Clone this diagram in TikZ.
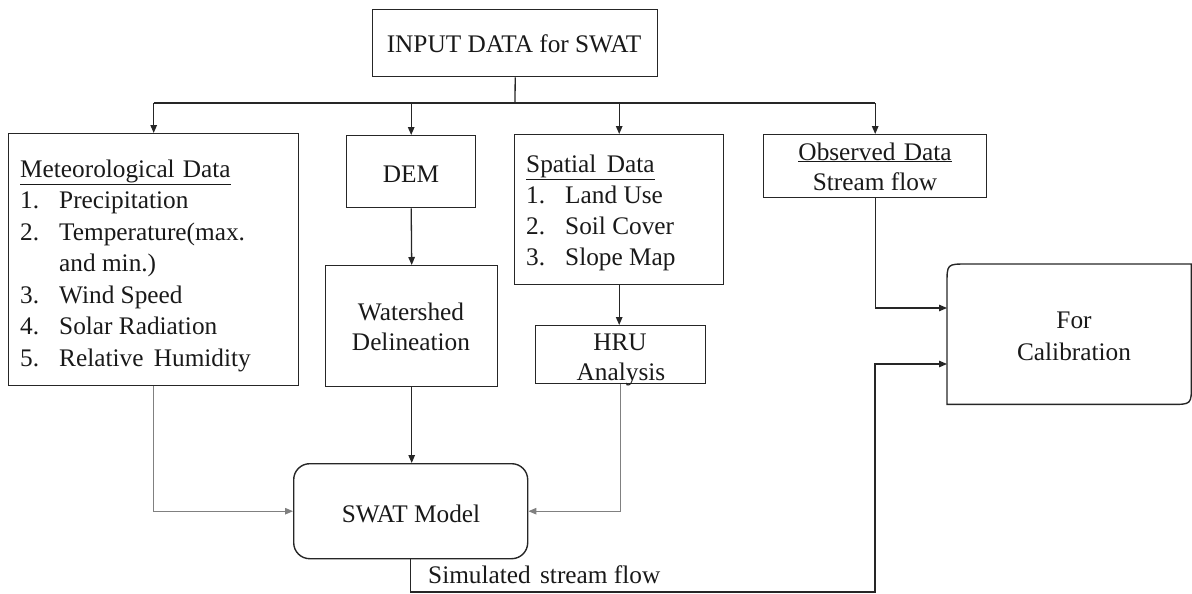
\documentclass[tikz,border=0pt]{standalone}
\usepackage{fontspec}
\setmainfont{Liberation Serif}
\usetikzlibrary{arrows.meta}
\begin{document}
\begin{tikzpicture}[x=1pt,y=-1pt,
  box/.style={draw=black!85,line width=1.4pt,inner sep=0pt,anchor=north west},
  rbox/.style={box,rounded corners=16pt},
  ghost/.style={inner sep=0pt,anchor=north west},
  txt/.style={font=\fontsize{25.3}{30}\selectfont,text=black!90,inner sep=0pt},
  tl/.style={txt,anchor=base west},
  tc/.style={txt,anchor=base},
  conn/.style={draw=black!85,line width=1.3pt,-{Triangle[length=8pt,width=6.5pt]}},
  plain/.style={draw=black!85,line width=1.3pt},
  lconn/.style={draw=black!50,line width=1.1pt,-{Triangle[length=8pt,width=6.5pt]}},
]
\useasboundingbox (0,0) rectangle (1192,594);

% boxes
\node[box,minimum width=285pt,minimum height=67pt] (inp) at (372,9) {};
\node[box,minimum width=290pt,minimum height=252pt] (met) at (8,133) {};
\node[box,minimum width=129pt,minimum height=72pt] (dem) at (346,135) {};
\node[box,minimum width=172pt,minimum height=121pt] (ws) at (325,265) {};
\node[box,minimum width=209pt,minimum height=150pt] (spa) at (514,134) {};
\node[box,minimum width=170pt,minimum height=58pt] (hru) at (535,325) {};
\node[box,minimum width=223pt,minimum height=63pt] (obs) at (763,134) {};
\node[rbox,minimum width=234pt,minimum height=95pt] (swat) at (293,463) {};
\node[ghost,minimum width=244pt,minimum height=140pt] (cal) at (947,264) {};
\draw[draw=black!85,line width=1.4pt] (cal.south west) -- ([yshift=-20pt]cal.north west)
  .. controls (cal.north west) .. ([xshift=20pt]cal.north west) -- (cal.north east)
  -- ([yshift=20pt]cal.south east) .. controls (cal.south east) .. ([xshift=-20pt]cal.south east) -- cycle;

% texts
\node[tc] (tinp) at (514,53) {INPUT DATA for SWAT};

\node[tl] (m0) at (20,177) {\underline{Meteorological\hspace{8pt}Data}};
\node[tl] (m1) at (20,208.5) {\makebox[39pt][l]{1.}Precipitation};
\node[tl] (m2) at (20,240) {\makebox[39pt][l]{2.}Temperature(max.};
\node[tl] (m3) at (20,271.5) {\makebox[39pt][l]{}and min.)};
\node[tl] (m4) at (20,303) {\makebox[39pt][l]{3.}Wind Speed};
\node[tl] (m5) at (20,334.5) {\makebox[39pt][l]{4.}Solar Radiation};
\node[tl] (m6) at (20,366) {\makebox[39pt][l]{5.}Relative\hspace{4pt} Humidity};

\node[tc] (tdem) at (411,182) {DEM};
\node[tc] (tws1) at (411,320) {Watershed};
\node[tc] (tws2) at (411,350) {Delineation};

\node[tl] (s0) at (526,172) {\underline{Spatial\hspace{4pt} Data}};
\node[tl] (s1) at (526,203) {\makebox[39pt][l]{1.}Land Use};
\node[tl] (s2) at (526,234.5) {\makebox[39pt][l]{2.}Soil Cover};
\node[tl] (s3) at (526,265) {\makebox[39pt][l]{3.}Slope Map};

\node[tc] (th1) at (620,350) {HRU};
\node[tc] (th2) at (621,380) {Analysis};

\node[tc] (to1) at (875,160) {\underline{Observed\hspace{2pt} Data}};
\node[tc] (to2) at (875,190) {Stream flow};

\node[tc] (tc1) at (1074,328) {For};
\node[tc] (tc2) at (1074,360) {Calibration};

\node[tc] (tsw) at (411,522) {SWAT Model};
\node[tl] (tsim) at (428,583) {Simulated\hspace{3pt} stream flow};

% connectors
\coordinate (bus) at (515,103);
\draw[plain] (inp.south) -- (bus);
\draw[plain] (met.north |- bus) -- (obs.north |- bus);
\draw[conn] (met.north |- bus) -- (met.north);
\draw[conn] (dem.north |- bus) -- (dem.north);
\draw[conn] (spa.north |- bus) -- (spa.north);
\draw[conn] (obs.north |- bus) -- (obs.north);
\draw[conn] (dem.south) -- (ws.north);
\draw[conn] (ws.south) -- (ws.south |- swat.north);
\draw[conn] (spa.south) -- (spa.south |- hru.north);
\draw[lconn] (met.south) |- (swat.west);
\draw[lconn] (hru.south) |- (swat.east);
\coordinate (cin1) at (947,308);
\coordinate (cin2) at (947,364);
\coordinate (sb) at (875,592);
\draw[conn] (obs.south) |- (cin1);
\draw[conn] (swat.south) |- (sb) |- (cin2);
\end{tikzpicture}
\end{document}
